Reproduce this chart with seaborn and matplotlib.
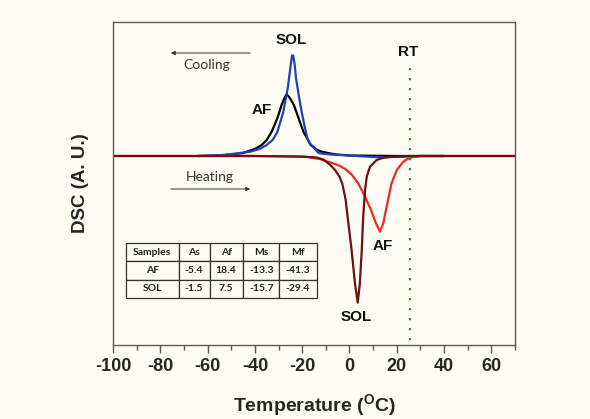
import matplotlib
matplotlib.use("Agg")
import matplotlib.pyplot as plt
import seaborn as sns

# --- Data (temperature in degC, DSC in arbitrary units) ---
cool_af_T = [-64, -55, -50, -45, -43.5, -40, -37.1, -35, -32.9, -30.5, -28.7, -27.5,
             -26.6, -25.5, -23.5, -21.5, -19.5, -16.4, -14, -11.8, -8, -5.4, 0, 20, 40]
cool_af_y = [0, 0.5, 1.5, 3, 4.3, 7, 11, 16, 24.3, 37.7, 51, 58,
             61.7, 59, 51, 37.7, 24.3, 11, 6.5, 4.3, 2.5, 1.5, 0.5, 0, 0]

cool_sol_T = [-64, -53.5, -48, -42, -38, -35, -32.5, -30.5, -28, -26.1, -25, -24.3, -23.8,
              -23.2, -22.6, -21.4, -20.2, -19, -17.8, -16.7, -15.3, -13.3, -12.5,
              -8, 0, 5, 12, 20, 30, 40]
cool_sol_y = [0, 1, 2.5, 4.3, 7, 11, 16, 24, 44, 67.7, 88, 100.5, 100.5,
              92, 77.7, 60, 44, 30, 17.7, 12.5, 9, 3.5, 2.7,
              1.5, 0.5, -0.3, -1.2, -0.8, 0, 0]

heat_af_T = [-100, -40, -25, -18, -12.5, -6.8, -4, -1.5, 0.9, 3.7, 6.6, 9.1, 11.2,
             12.9, 14.3, 16.0, 17.8, 20.0, 22.8, 24.5, 26.3, 30, 70]
heat_af_y = [0, 0, -0.5, -1, -3, -7.5, -10, -13.5, -18.5, -27.3, -40.7, -54, -67.3,
             -75.7, -67.3, -47.3, -27.3, -14, -5.7, -3, -1.3, 0, 0]

heat_sol_T = [-100, -40, -20, -14, -11.1, -8.3, -6.1, -4.2, -3.0, -1.6, -0.8, 0.9,
              2.3, 3.5, 4.4, 5.2, 5.8, 6.6, 7.3, 8.7, 11.5, 14, 17, 25, 70]
heat_sol_y = [0, 0, -0.5, -1.5, -3.5, -8.5, -14, -20.7, -28, -44, -60.7, -94,
              -127, -146.7, -127, -94, -60.7, -34, -20.7, -10.7, -4, -2, -1, 0, 0]

rt_temp = 25.6

table_cols = ["Samples", "As", "Af", "Ms", "Mf"]
table_rows = [["AF", "-5.4", "18.4", "-13.3", "-41.3"],
              ["SOL", "-1.5", "7.5", "-15.7", "-29.4"]]

bg = "#fdfdf3"

sns.set_theme(style="white")
plt.rcParams.update({
    "font.family": ["Liberation Sans", "DejaVu Sans"],
    "axes.unicode_minus": False,
    "mathtext.fontset": "custom",
    "mathtext.rm": "Liberation Sans:bold",
    "mathtext.it": "Liberation Sans:bold",
    "mathtext.bf": "Liberation Sans:bold",
    "figure.facecolor": bg,
    "axes.facecolor": bg,
})

fig = plt.figure(figsize=(5.9, 4.19), dpi=100)
ax = fig.add_axes([0.1915, 0.1766, 0.6814, 0.7709])

curves = [
    (cool_af_T, cool_af_y, "black"),
    (cool_sol_T, cool_sol_y, "#2340b8"),
    (heat_af_T, heat_af_y, "#f0282a"),
    (heat_sol_T, heat_sol_y, "#6e1010"),
]
for T, y, c in curves:
    sns.lineplot(x=T, y=y, color=c, lw=1.6, sort=False, estimator=None, ax=ax)

# room temperature marker
ax.plot([rt_temp, rt_temp], [88, -189], ls=(0, (1, 3.5)), color="#2e8b2e", lw=1.6)

ax.set_xlim(-100, 70)
ax.set_ylim(-189, 134)
ax.set_xticks(range(-100, 61, 20))
ax.set_xticks(range(-90, 71, 20), minor=True)
ax.set_yticks([])
ax.tick_params(axis="x", which="major", direction="out", length=6, width=1,
               color="#555555", bottom=True, pad=3)
ax.tick_params(axis="x", which="minor", direction="out", length=3.5, width=1,
               color="#555555", bottom=True)
for lab in ax.get_xticklabels():
    lab.set_fontsize(13)
    lab.set_fontweight("bold")
for s in ax.spines.values():
    s.set_color("#5a5a5a")
    s.set_linewidth(1)

ax.set_xlabel("Temperature ($^{O}$C)", fontsize=14, fontweight="bold", labelpad=13)
ax.set_ylabel("DSC (A. U.)", fontsize=13.5, fontweight="bold", labelpad=17)

# peak labels
lbl = dict(fontsize=11, fontweight="bold", ha="center", va="center", color="#111111")
ax.text(-24.7, 116, "SOL", **lbl)
ax.text(24.7, 104, "RT", **lbl)
ax.text(-37, 46, "AF", **lbl)
ax.text(14.2, -90, "AF", **lbl)
ax.text(2.7, -161, "SOL", **lbl)

# direction arrows
ax.text(-60.3, 91, "Cooling", fontsize=10, family="Lato", ha="center", va="center",
        color="#333333")
ax.annotate("", xy=(-76.7, 103), xytext=(-40.8, 103),
            arrowprops=dict(arrowstyle="-|>", color="#333333", lw=0.7,
                            mutation_scale=6))
ax.text(-59, -21, "Heating", fontsize=10, family="Lato", ha="center", va="center",
        color="#333333")
ax.annotate("", xy=(-40.8, -33), xytext=(-76.7, -33),
            arrowprops=dict(arrowstyle="-|>", color="#333333", lw=0.7,
                            mutation_scale=6))

# transformation temperatures table
tbl = ax.table(cellText=table_rows, colLabels=table_cols, cellLoc="center",
               colWidths=[158, 93, 100, 110, 112],
               bbox=[0.032, 0.146, 0.475, 0.170])
tbl.auto_set_font_size(False)
for cell in tbl.get_celld().values():
    cell.set_facecolor(bg)
    cell.set_edgecolor("#333333")
    cell.set_linewidth(0.9)
    cell.get_text().set_fontsize(7.5)
    cell.get_text().set_fontweight("bold")
    cell.get_text().set_fontfamily("Lato")
    cell.get_text().set_color("#222222")

fig.savefig("out.png", dpi=100, facecolor=bg)
